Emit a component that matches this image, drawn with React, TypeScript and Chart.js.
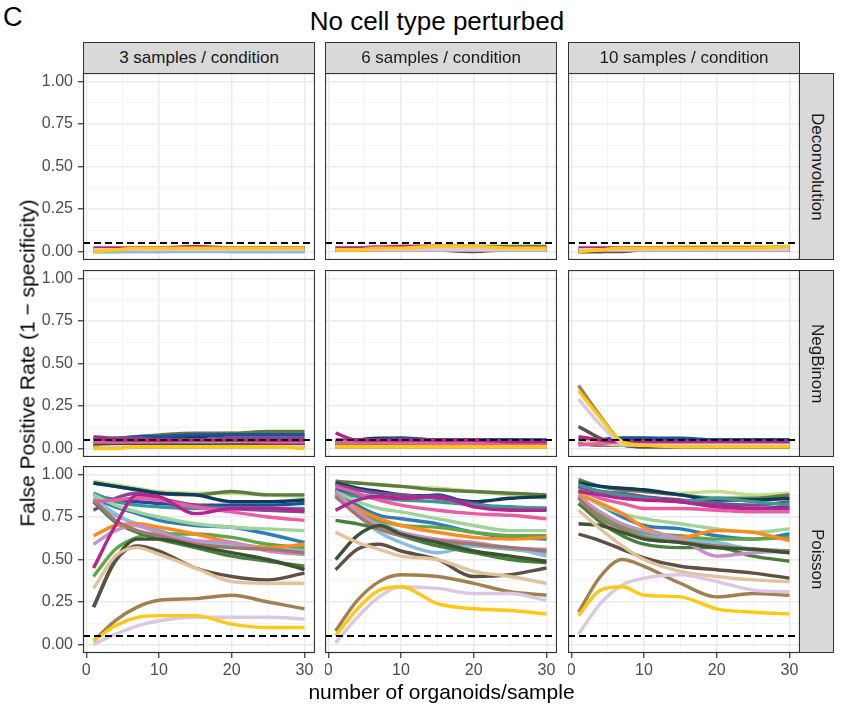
import React, { useEffect, useRef } from "react";
import { Chart, registerables } from "chart.js";

Chart.register(...registerables);

// ---------------- data ----------------
const organoids = [1, 4, 7, 10, 15, 20, 25, 30];
const xMajorTicks = [0, 10, 20, 30];
const xMinorTicks = [5, 15, 25];
const yMajorTicks = [0, 0.25, 0.5, 0.75, 1];
const yMinorTicks = [0.125, 0.375, 0.625, 0.875];
const fprThreshold = 0.05;

const columnLabels = ["3 samples / condition", "6 samples / condition", "10 samples / condition"];
const rowLabels = ["Deconvolution", "NegBinom", "Poisson"];

const seriesColors = [
  "#C5DE8C", "#5F7B3F", "#0D3B5C", "#1D4F9E", "#7E4C8E", "#3E9793",
  "#70B8B4", "#2D7EB8", "#86BFDF", "#9ED39A", "#61A64B", "#44803A",
  "#FF8B1E", "#C58FC8", "#A3766F", "#3D5230", "#5E5044", "#E0C39C",
  "#A3804F", "#EC5CA4", "#B4238E", "#DCC7E3", "#FFC814",
];

const deconvolution3 = [
  [0.02, 0.02, 0.02, 0.02, 0.02, 0.02, 0.02, 0.02],
  [0.01, 0.01, 0.02, 0.02, 0.02, 0.02, 0.02, 0.02],
  [0.01, 0.01, 0.01, 0.01, 0.01, 0.01, 0.01, 0.01],
  [0.01, 0.01, 0.01, 0.01, 0.01, 0.01, 0.01, 0.01],
  [0.01, 0.01, 0.01, 0.02, 0.02, 0.02, 0.02, 0.02],
  [0.0, 0.0, 0.01, 0.01, 0.01, 0.01, 0.01, 0.01],
  [0.0, 0.0, 0.0, 0.0, 0.01, 0.0, 0.0, 0.0],
  [0.01, 0.01, 0.01, 0.01, 0.01, 0.01, 0.01, 0.01],
  [0.0, 0.0, 0.0, 0.0, 0.0, 0.0, 0.0, 0.0],
  [0.01, 0.01, 0.01, 0.01, 0.01, 0.01, 0.01, 0.01],
  [0.01, 0.01, 0.01, 0.01, 0.01, 0.01, 0.01, 0.01],
  [0.01, 0.01, 0.01, 0.01, 0.01, 0.01, 0.01, 0.01],
  [0.01, 0.01, 0.01, 0.01, 0.02, 0.02, 0.02, 0.02],
  [0.01, 0.01, 0.01, 0.01, 0.01, 0.01, 0.01, 0.01],
  [0.01, 0.01, 0.01, 0.02, 0.02, 0.02, 0.02, 0.02],
  [0.01, 0.01, 0.01, 0.01, 0.01, 0.01, 0.01, 0.01],
  [0.01, 0.01, 0.01, 0.01, 0.01, 0.01, 0.01, 0.01],
  [0.01, 0.01, 0.01, 0.01, 0.01, 0.01, 0.01, 0.01],
  [0.01, 0.01, 0.01, 0.02, 0.02, 0.02, 0.02, 0.02],
  [0.02, 0.02, 0.02, 0.02, 0.02, 0.02, 0.02, 0.02],
  [0.02, 0.02, 0.02, 0.02, 0.03, 0.02, 0.02, 0.02],
  [0.01, 0.01, 0.01, 0.01, 0.01, 0.01, 0.01, 0.01],
  [0.0, 0.01, 0.02, 0.02, 0.02, 0.02, 0.02, 0.02],
];

const deconvolution6 = [
  [0.02, 0.02, 0.02, 0.03, 0.03, 0.03, 0.03, 0.03],
  [0.02, 0.02, 0.02, 0.02, 0.03, 0.03, 0.03, 0.03],
  [0.01, 0.01, 0.01, 0.02, 0.02, 0.02, 0.02, 0.02],
  [0.01, 0.01, 0.02, 0.02, 0.02, 0.02, 0.02, 0.02],
  [0.02, 0.02, 0.02, 0.02, 0.02, 0.02, 0.02, 0.02],
  [0.01, 0.01, 0.01, 0.01, 0.01, 0.01, 0.01, 0.01],
  [0.01, 0.01, 0.01, 0.01, 0.01, 0.01, 0.01, 0.01],
  [0.01, 0.01, 0.02, 0.02, 0.02, 0.02, 0.02, 0.02],
  [0.01, 0.01, 0.01, 0.01, 0.01, 0.01, 0.01, 0.01],
  [0.02, 0.02, 0.02, 0.02, 0.02, 0.02, 0.02, 0.02],
  [0.01, 0.01, 0.01, 0.02, 0.02, 0.02, 0.02, 0.02],
  [0.01, 0.01, 0.01, 0.01, 0.01, 0.01, 0.01, 0.01],
  [0.02, 0.02, 0.02, 0.02, 0.02, 0.02, 0.02, 0.02],
  [0.01, 0.01, 0.02, 0.02, 0.02, 0.02, 0.02, 0.02],
  [0.01, 0.01, 0.01, 0.02, 0.02, 0.02, 0.02, 0.02],
  [0.01, 0.01, 0.01, 0.01, 0.01, 0.01, 0.01, 0.01],
  [0.01, 0.01, 0.01, 0.02, 0.01, 0.0, 0.01, 0.01],
  [0.01, 0.01, 0.01, 0.01, 0.01, 0.01, 0.01, 0.01],
  [0.01, 0.01, 0.02, 0.02, 0.02, 0.02, 0.02, 0.02],
  [0.02, 0.02, 0.03, 0.03, 0.03, 0.02, 0.02, 0.02],
  [0.02, 0.02, 0.02, 0.03, 0.03, 0.03, 0.02, 0.02],
  [0.01, 0.01, 0.01, 0.01, 0.01, 0.01, 0.01, 0.01],
  [0.01, 0.01, 0.02, 0.02, 0.03, 0.03, 0.02, 0.02],
];

const deconvolution10 = [
  [0.02, 0.02, 0.02, 0.02, 0.03, 0.03, 0.03, 0.03],
  [0.01, 0.02, 0.02, 0.02, 0.02, 0.02, 0.02, 0.03],
  [0.01, 0.01, 0.01, 0.02, 0.02, 0.02, 0.02, 0.02],
  [0.01, 0.01, 0.02, 0.02, 0.02, 0.02, 0.02, 0.02],
  [0.01, 0.01, 0.01, 0.01, 0.01, 0.01, 0.02, 0.02],
  [0.01, 0.01, 0.01, 0.01, 0.01, 0.01, 0.01, 0.01],
  [0.0, 0.0, 0.01, 0.01, 0.01, 0.01, 0.01, 0.01],
  [0.01, 0.01, 0.01, 0.01, 0.01, 0.02, 0.02, 0.02],
  [0.01, 0.01, 0.01, 0.01, 0.01, 0.01, 0.01, 0.01],
  [0.01, 0.02, 0.02, 0.02, 0.02, 0.02, 0.02, 0.02],
  [0.01, 0.01, 0.01, 0.01, 0.01, 0.01, 0.01, 0.01],
  [0.01, 0.01, 0.01, 0.01, 0.01, 0.01, 0.01, 0.01],
  [0.01, 0.01, 0.02, 0.02, 0.02, 0.02, 0.02, 0.02],
  [0.01, 0.01, 0.01, 0.01, 0.02, 0.02, 0.02, 0.02],
  [0.01, 0.01, 0.01, 0.01, 0.01, 0.01, 0.01, 0.01],
  [0.0, 0.0, 0.01, 0.01, 0.01, 0.01, 0.01, 0.01],
  [0.0, 0.0, 0.0, 0.01, 0.01, 0.01, 0.01, 0.01],
  [0.01, 0.01, 0.01, 0.01, 0.01, 0.01, 0.01, 0.01],
  [0.01, 0.01, 0.01, 0.01, 0.02, 0.01, 0.01, 0.01],
  [0.02, 0.02, 0.02, 0.02, 0.02, 0.02, 0.02, 0.02],
  [0.02, 0.02, 0.02, 0.02, 0.02, 0.02, 0.02, 0.02],
  [0.01, 0.01, 0.01, 0.01, 0.01, 0.01, 0.01, 0.01],
  [0.0, 0.01, 0.02, 0.02, 0.02, 0.02, 0.02, 0.03],
];

const negbinom3 = [
  [0.04, 0.05, 0.06, 0.07, 0.08, 0.09, 0.09, 0.09],
  [0.05, 0.06, 0.07, 0.08, 0.09, 0.09, 0.1, 0.1],
  [0.05, 0.05, 0.06, 0.07, 0.07, 0.08, 0.08, 0.08],
  [0.03, 0.05, 0.07, 0.07, 0.08, 0.08, 0.08, 0.08],
  [0.07, 0.06, 0.06, 0.05, 0.05, 0.06, 0.06, 0.06],
  [0.03, 0.04, 0.04, 0.04, 0.05, 0.05, 0.05, 0.05],
  [0.02, 0.03, 0.03, 0.03, 0.03, 0.03, 0.03, 0.03],
  [0.03, 0.04, 0.04, 0.04, 0.04, 0.04, 0.05, 0.05],
  [0.02, 0.02, 0.02, 0.02, 0.02, 0.02, 0.02, 0.02],
  [0.03, 0.03, 0.04, 0.04, 0.04, 0.04, 0.04, 0.04],
  [0.02, 0.02, 0.03, 0.03, 0.03, 0.03, 0.03, 0.03],
  [0.03, 0.03, 0.03, 0.03, 0.03, 0.04, 0.04, 0.04],
  [0.02, 0.02, 0.02, 0.02, 0.02, 0.02, 0.02, 0.02],
  [0.03, 0.03, 0.03, 0.03, 0.03, 0.03, 0.03, 0.03],
  [0.02, 0.02, 0.02, 0.02, 0.02, 0.02, 0.02, 0.02],
  [0.02, 0.02, 0.02, 0.02, 0.02, 0.02, 0.02, 0.02],
  [0.01, 0.01, 0.01, 0.01, 0.01, 0.02, 0.02, 0.02],
  [0.01, 0.01, 0.01, 0.01, 0.01, 0.01, 0.01, 0.01],
  [0.01, 0.01, 0.01, 0.01, 0.01, 0.01, 0.01, 0.01],
  [0.04, 0.04, 0.04, 0.04, 0.05, 0.05, 0.04, 0.04],
  [0.06, 0.05, 0.05, 0.05, 0.05, 0.05, 0.05, 0.05],
  [0.0, 0.01, 0.01, 0.01, 0.01, 0.01, 0.01, 0.01],
  [0.0, 0.0, 0.01, 0.01, 0.01, 0.01, 0.01, 0.0],
];

const negbinom6 = [
  [0.03, 0.04, 0.04, 0.04, 0.04, 0.04, 0.04, 0.04],
  [0.03, 0.03, 0.04, 0.04, 0.04, 0.04, 0.04, 0.04],
  [0.04, 0.05, 0.06, 0.06, 0.05, 0.05, 0.05, 0.05],
  [0.04, 0.05, 0.05, 0.06, 0.05, 0.05, 0.05, 0.04],
  [0.05, 0.05, 0.05, 0.04, 0.04, 0.04, 0.04, 0.04],
  [0.03, 0.03, 0.03, 0.03, 0.03, 0.03, 0.03, 0.03],
  [0.02, 0.02, 0.02, 0.02, 0.02, 0.02, 0.02, 0.02],
  [0.03, 0.04, 0.04, 0.04, 0.04, 0.04, 0.04, 0.04],
  [0.02, 0.02, 0.02, 0.02, 0.02, 0.02, 0.02, 0.02],
  [0.03, 0.03, 0.03, 0.03, 0.03, 0.03, 0.03, 0.03],
  [0.02, 0.02, 0.02, 0.02, 0.02, 0.02, 0.02, 0.02],
  [0.02, 0.03, 0.03, 0.03, 0.03, 0.03, 0.03, 0.03],
  [0.02, 0.02, 0.02, 0.02, 0.02, 0.02, 0.02, 0.02],
  [0.02, 0.02, 0.02, 0.02, 0.02, 0.02, 0.02, 0.02],
  [0.02, 0.02, 0.02, 0.02, 0.02, 0.02, 0.02, 0.02],
  [0.01, 0.01, 0.01, 0.01, 0.01, 0.01, 0.01, 0.01],
  [0.01, 0.01, 0.01, 0.01, 0.01, 0.01, 0.01, 0.01],
  [0.01, 0.01, 0.01, 0.01, 0.01, 0.01, 0.01, 0.01],
  [0.01, 0.01, 0.01, 0.01, 0.01, 0.01, 0.01, 0.01],
  [0.04, 0.04, 0.04, 0.04, 0.03, 0.03, 0.03, 0.03],
  [0.09, 0.05, 0.05, 0.05, 0.05, 0.05, 0.04, 0.04],
  [0.01, 0.01, 0.01, 0.01, 0.01, 0.01, 0.01, 0.01],
  [0.01, 0.01, 0.01, 0.01, 0.01, 0.01, 0.01, 0.01],
];

const negbinom10 = [
  [0.04, 0.03, 0.02, 0.02, 0.02, 0.02, 0.02, 0.02],
  [0.05, 0.03, 0.02, 0.02, 0.02, 0.02, 0.02, 0.02],
  [0.04, 0.05, 0.06, 0.06, 0.05, 0.05, 0.05, 0.05],
  [0.04, 0.05, 0.06, 0.06, 0.06, 0.05, 0.05, 0.05],
  [0.05, 0.04, 0.03, 0.03, 0.03, 0.03, 0.03, 0.03],
  [0.04, 0.03, 0.03, 0.03, 0.03, 0.03, 0.03, 0.03],
  [0.03, 0.03, 0.02, 0.02, 0.02, 0.02, 0.02, 0.02],
  [0.04, 0.04, 0.04, 0.04, 0.04, 0.04, 0.04, 0.04],
  [0.03, 0.02, 0.02, 0.02, 0.02, 0.02, 0.02, 0.02],
  [0.04, 0.03, 0.03, 0.03, 0.03, 0.03, 0.03, 0.03],
  [0.03, 0.02, 0.02, 0.02, 0.02, 0.02, 0.02, 0.02],
  [0.03, 0.02, 0.02, 0.02, 0.02, 0.02, 0.02, 0.02],
  [0.04, 0.03, 0.02, 0.02, 0.02, 0.02, 0.02, 0.02],
  [0.04, 0.03, 0.02, 0.02, 0.02, 0.02, 0.02, 0.02],
  [0.03, 0.02, 0.02, 0.02, 0.02, 0.02, 0.02, 0.02],
  [0.06, 0.03, 0.02, 0.01, 0.01, 0.01, 0.01, 0.01],
  [0.13, 0.06, 0.02, 0.01, 0.01, 0.01, 0.01, 0.01],
  [0.05, 0.03, 0.02, 0.02, 0.02, 0.02, 0.02, 0.02],
  [0.37, 0.19, 0.04, 0.02, 0.02, 0.02, 0.02, 0.02],
  [0.02, 0.03, 0.04, 0.04, 0.04, 0.04, 0.04, 0.04],
  [0.07, 0.05, 0.04, 0.04, 0.04, 0.04, 0.04, 0.04],
  [0.29, 0.14, 0.03, 0.02, 0.02, 0.02, 0.02, 0.02],
  [0.34, 0.18, 0.04, 0.02, 0.01, 0.01, 0.01, 0.01],
];

const poisson3 = [
  [0.96, 0.94, 0.92, 0.9, 0.89, 0.89, 0.88, 0.87],
  [0.95, 0.93, 0.91, 0.89, 0.88, 0.9, 0.88, 0.88],
  [0.95, 0.93, 0.91, 0.89, 0.88, 0.84, 0.84, 0.85],
  [0.88, 0.85, 0.84, 0.83, 0.82, 0.82, 0.82, 0.83],
  [0.79, 0.86, 0.89, 0.86, 0.82, 0.8, 0.79, 0.78],
  [0.89, 0.84, 0.82, 0.81, 0.8, 0.8, 0.8, 0.8],
  [0.84, 0.76, 0.71, 0.67, 0.61, 0.58, 0.56, 0.55],
  [0.86, 0.81, 0.77, 0.73, 0.7, 0.69, 0.65, 0.6],
  [0.86, 0.77, 0.7, 0.66, 0.61, 0.59, 0.57, 0.56],
  [0.88, 0.82, 0.78, 0.75, 0.71, 0.69, 0.68, 0.67],
  [0.4, 0.56, 0.63, 0.65, 0.65, 0.63, 0.59, 0.57],
  [0.84, 0.72, 0.66, 0.62, 0.57, 0.52, 0.49, 0.46],
  [0.64, 0.7, 0.71, 0.69, 0.65, 0.6, 0.57, 0.59],
  [0.59, 0.67, 0.7, 0.66, 0.61, 0.6, 0.55, 0.53],
  [0.85, 0.73, 0.67, 0.64, 0.59, 0.57, 0.56, 0.54],
  [0.22, 0.5, 0.62, 0.62, 0.58, 0.54, 0.5, 0.44],
  [0.22, 0.49, 0.58, 0.55, 0.45, 0.4, 0.38, 0.42],
  [0.33, 0.52, 0.57, 0.53, 0.45, 0.37, 0.36, 0.36],
  [0.02, 0.14, 0.22, 0.26, 0.27, 0.29, 0.25, 0.21],
  [0.84, 0.85, 0.86, 0.85, 0.81, 0.78, 0.75, 0.73],
  [0.45, 0.7, 0.88, 0.87, 0.77, 0.8, 0.8, 0.79],
  [0.0, 0.06, 0.11, 0.14, 0.16, 0.16, 0.16, 0.15],
  [0.02, 0.11, 0.16, 0.17, 0.17, 0.12, 0.1, 0.1],
];

const poisson6 = [
  [0.96, 0.95, 0.94, 0.93, 0.92, 0.9, 0.88, 0.86],
  [0.96, 0.95, 0.94, 0.93, 0.91, 0.9, 0.89, 0.88],
  [0.95, 0.92, 0.9, 0.88, 0.87, 0.84, 0.86, 0.87],
  [0.92, 0.88, 0.87, 0.86, 0.88, 0.82, 0.8, 0.8],
  [0.94, 0.91, 0.89, 0.88, 0.86, 0.83, 0.8, 0.8],
  [0.9, 0.87, 0.86, 0.85, 0.84, 0.82, 0.81, 0.8],
  [0.88, 0.8, 0.72, 0.66, 0.6, 0.58, 0.56, 0.54],
  [0.91, 0.82, 0.76, 0.74, 0.71, 0.66, 0.63, 0.62],
  [0.88, 0.76, 0.66, 0.6, 0.54, 0.58, 0.57, 0.52],
  [0.9, 0.84, 0.8, 0.78, 0.74, 0.7, 0.67, 0.67],
  [0.89, 0.78, 0.73, 0.7, 0.69, 0.66, 0.64, 0.64],
  [0.73, 0.71, 0.68, 0.64, 0.58, 0.54, 0.5, 0.48],
  [0.88, 0.8, 0.74, 0.7, 0.66, 0.63, 0.62, 0.63],
  [0.9, 0.78, 0.7, 0.66, 0.62, 0.6, 0.57, 0.56],
  [0.87, 0.76, 0.68, 0.64, 0.61, 0.59, 0.57, 0.55],
  [0.5, 0.64, 0.7, 0.65, 0.6, 0.55, 0.52, 0.49],
  [0.44, 0.56, 0.59, 0.55, 0.5, 0.4, 0.41, 0.45],
  [0.66, 0.6, 0.56, 0.52, 0.5, 0.43, 0.4, 0.36],
  [0.08, 0.26, 0.37, 0.41, 0.4, 0.36, 0.31, 0.29],
  [0.93, 0.89, 0.85, 0.82, 0.79, 0.77, 0.76, 0.74],
  [0.79, 0.85, 0.87, 0.86, 0.87, 0.81, 0.79, 0.79],
  [0.01, 0.16, 0.28, 0.34, 0.33, 0.3, 0.3, 0.26],
  [0.05, 0.21, 0.32, 0.34, 0.24, 0.21, 0.2, 0.18],
];

const poisson10 = [
  [0.96, 0.93, 0.91, 0.9, 0.89, 0.9, 0.88, 0.89],
  [0.97, 0.93, 0.91, 0.9, 0.88, 0.86, 0.86, 0.88],
  [0.95, 0.93, 0.92, 0.91, 0.88, 0.85, 0.85, 0.86],
  [0.93, 0.9, 0.88, 0.86, 0.84, 0.82, 0.8, 0.81],
  [0.92, 0.9, 0.89, 0.87, 0.85, 0.83, 0.82, 0.84],
  [0.94, 0.9, 0.88, 0.86, 0.84, 0.86, 0.84, 0.82],
  [0.88, 0.77, 0.7, 0.64, 0.62, 0.58, 0.56, 0.55],
  [0.9, 0.82, 0.75, 0.7, 0.68, 0.64, 0.62, 0.65],
  [0.87, 0.77, 0.7, 0.66, 0.63, 0.6, 0.56, 0.54],
  [0.9, 0.82, 0.77, 0.74, 0.71, 0.68, 0.66, 0.68],
  [0.87, 0.76, 0.7, 0.66, 0.64, 0.62, 0.62, 0.63],
  [0.83, 0.72, 0.64, 0.59, 0.57, 0.57, 0.52, 0.49],
  [0.88, 0.83, 0.77, 0.69, 0.63, 0.67, 0.66, 0.61],
  [0.87, 0.78, 0.71, 0.67, 0.62, 0.52, 0.54, 0.55],
  [0.86, 0.74, 0.68, 0.63, 0.6, 0.58, 0.56, 0.55],
  [0.71, 0.7, 0.66, 0.62, 0.6, 0.57, 0.56, 0.54],
  [0.65, 0.61, 0.56, 0.51, 0.46, 0.44, 0.42, 0.39],
  [0.79, 0.68, 0.58, 0.5, 0.43, 0.4, 0.38, 0.37],
  [0.19, 0.4, 0.5, 0.46, 0.36, 0.28, 0.3, 0.29],
  [0.91, 0.86, 0.83, 0.8, 0.8, 0.79, 0.78, 0.78],
  [0.9, 0.88, 0.86, 0.85, 0.84, 0.81, 0.8, 0.8],
  [0.06, 0.24, 0.35, 0.39, 0.41, 0.37, 0.32, 0.31],
  [0.17, 0.32, 0.34, 0.29, 0.28, 0.21, 0.19, 0.18],
];

const panelData = [
  [deconvolution3, deconvolution6, deconvolution10],
  [negbinom3, negbinom6, negbinom10],
  [poisson3, poisson6, poisson10],
];

// ---------------- layout / style ----------------
const FONT = '"Liberation Sans", Arial, Helvetica, sans-serif';
const COL_LEFT = [83, 325, 568];
const ROW_TOP = [73, 270, 466];
const PANEL_W = 232;
const PANEL_H = 187;
const Y_AXIS_W = 75;
const X_AXIS_H = 32;
const X_MIN = -0.45;
const X_MAX = 31.45;
const Y_MIN = -0.05;
const Y_MAX = 1.05;

const panelBorder = {
  id: "panelBorder",
  afterDraw(chart: any) {
    const { ctx, chartArea } = chart;
    const { left, top, right, bottom } = chartArea;
    ctx.save();
    ctx.strokeStyle = "#333333";
    ctx.lineWidth = 1.2;
    ctx.strokeRect(left + 0.5, top + 0.5, right - left - 1, bottom - top - 1);
    ctx.restore();
  },
};

function Panel({ row, col }: { row: number; col: number }) {
  const ref = useRef<HTMLCanvasElement>(null);
  const showY = col === 0;
  const showX = row === 2;
  const width = PANEL_W + (showY ? Y_AXIS_W : 0);
  const height = PANEL_H + (showX ? X_AXIS_H : 0);
  const left = COL_LEFT[col] - (showY ? Y_AXIS_W : 0);
  const top = ROW_TOP[row];

  useEffect(() => {
    const series = panelData[row][col];
    const datasets: any[] = [
      {
        data: [
          { x: X_MIN, y: fprThreshold },
          { x: X_MAX, y: fprThreshold },
        ],
        borderColor: "#000000",
        borderWidth: 1.8,
        borderDash: [7, 4],
        pointRadius: 0,
        order: 0,
      },
    ];
    series.forEach((vals, i) => {
      datasets.push({
        data: organoids.map((x, j) => ({ x, y: vals[j] })),
        borderColor: seriesColors[i],
        borderWidth: 3.4,
        pointRadius: 0,
        cubicInterpolationMode: "monotone",
        borderCapStyle: "butt",
        borderJoinStyle: "round",
        order: 100 - i,
      });
    });

    const xMajor = new Set(xMajorTicks);
    const yMajor = new Set(yMajorTicks);
    const xAll = [...xMajorTicks, ...xMinorTicks].sort((a, b) => a - b);
    const yAll = [...yMajorTicks, ...yMinorTicks].sort((a, b) => a - b);

    const chart = new Chart(ref.current as HTMLCanvasElement, {
      type: "line",
      data: { datasets },
      plugins: [panelBorder],
      options: {
        animation: false,
        responsive: false,
        layout: { padding: 0 },
        plugins: { legend: { display: false }, tooltip: { enabled: false } },
        elements: { point: { radius: 0 } },
        scales: {
          x: {
            type: "linear",
            min: X_MIN,
            max: X_MAX,
            afterBuildTicks: (s: any) => {
              s.ticks = xAll.map((v) => ({ value: v }));
            },
            afterFit: (s: any) => {
              s.height = showX ? X_AXIS_H : 0;
              s.paddingLeft = 0;
              s.paddingRight = 0;
              s.paddingTop = 0;
              s.paddingBottom = 0;
            },
            border: { display: false },
            grid: {
              color: (c: any) => (c.tick && xMajor.has(c.tick.value) ? "#EBEBEB" : "#F4F4F4"),
              lineWidth: (c: any) => (c.tick && xMajor.has(c.tick.value) ? 1.5 : 1),
              drawTicks: showX,
              tickLength: 5,
              tickWidth: 1.2,
              tickColor: (c: any) => (c.tick && xMajor.has(c.tick.value) ? "#333333" : "rgba(0,0,0,0)"),
            },
            ticks: {
              display: showX,
              autoSkip: false,
              maxRotation: 0,
              padding: 3,
              color: "#4D4D4D",
              font: { family: FONT, size: 16 },
              callback: (v: any) => (xMajor.has(v) ? String(v) : ""),
            },
          },
          y: {
            type: "linear",
            position: "left",
            min: Y_MIN,
            max: Y_MAX,
            afterBuildTicks: (s: any) => {
              s.ticks = yAll.map((v) => ({ value: v }));
            },
            afterFit: (s: any) => {
              s.width = showY ? Y_AXIS_W : 0;
              s.paddingLeft = 0;
              s.paddingRight = 0;
              s.paddingTop = 0;
              s.paddingBottom = 0;
            },
            border: { display: false },
            grid: {
              color: (c: any) => (c.tick && yMajor.has(c.tick.value) ? "#EBEBEB" : "#F4F4F4"),
              lineWidth: (c: any) => (c.tick && yMajor.has(c.tick.value) ? 1.5 : 1),
              drawTicks: showY,
              tickLength: 5,
              tickWidth: 1.2,
              tickColor: (c: any) => (c.tick && yMajor.has(c.tick.value) ? "#333333" : "rgba(0,0,0,0)"),
            },
            ticks: {
              display: showY,
              autoSkip: false,
              padding: 5,
              color: "#4D4D4D",
              font: { family: FONT, size: 16 },
              callback: (v: any) => (yMajor.has(v) ? Number(v).toFixed(2) : ""),
            },
          },
        },
      } as any,
    });
    return () => chart.destroy();
  }, [row, col]);

  return (
    <canvas
      ref={ref}
      width={width}
      height={height}
      style={{ position: "absolute", left, top, width, height }}
    />
  );
}

export default function App() {
  const panels: JSX.Element[] = [];
  for (let r = 0; r < 3; r++) {
    for (let c = 0; c < 3; c++) {
      panels.push(<Panel key={`${r}-${c}`} row={r} col={c} />);
    }
  }
  return (
    <div
      style={{
        position: "absolute",
        left: 0,
        top: 0,
        width: 841,
        height: 709,
        background: "#FFFFFF",
        fontFamily: FONT,
        overflow: "hidden",
      }}
    >
      <div style={{ position: "absolute", left: 3, top: 4, fontSize: 27, lineHeight: "27px", color: "#000" }}>C</div>
      <div
        style={{
          position: "absolute",
          left: 437,
          top: 8,
          transform: "translateX(-50%)",
          whiteSpace: "nowrap",
          fontSize: 26,
          lineHeight: "26px",
          color: "#000",
        }}
      >
        No cell type perturbed
      </div>
      {panels}
      {columnLabels.map((label, c) => (
        <div
          key={label}
          style={{
            position: "absolute",
            left: COL_LEFT[c],
            top: 42,
            width: PANEL_W,
            height: 32,
            boxSizing: "border-box",
            border: "1px solid #333333",
            background: "#D9D9D9",
            display: "flex",
            alignItems: "center",
            justifyContent: "center",
            fontSize: 17,
            color: "#1A1A1A",
            whiteSpace: "nowrap",
          }}
        >
          {label}
        </div>
      ))}
      {rowLabels.map((label, r) => (
        <div
          key={label}
          style={{
            position: "absolute",
            left: 799,
            top: ROW_TOP[r],
            width: 35,
            height: PANEL_H,
            boxSizing: "border-box",
            border: "1px solid #333333",
            background: "#D9D9D9",
            display: "flex",
            alignItems: "center",
            justifyContent: "center",
            fontSize: 17,
            color: "#1A1A1A",
          }}
        >
          <span style={{ writingMode: "vertical-rl", whiteSpace: "nowrap" }}>{label}</span>
        </div>
      ))}
      <div
        style={{
          position: "absolute",
          left: 27,
          top: 363,
          transform: "translate(-50%, -50%) rotate(-90deg)",
          whiteSpace: "nowrap",
          fontSize: 21,
          lineHeight: "21px",
          color: "#000",
        }}
      >
        False Positive Rate (1 − specificity)
      </div>
      <div
        style={{
          position: "absolute",
          left: 441.5,
          top: 681,
          transform: "translateX(-50%)",
          whiteSpace: "nowrap",
          fontSize: 21,
          lineHeight: "21px",
          color: "#000",
        }}
      >
        number of organoids/sample
      </div>
    </div>
  );
}
